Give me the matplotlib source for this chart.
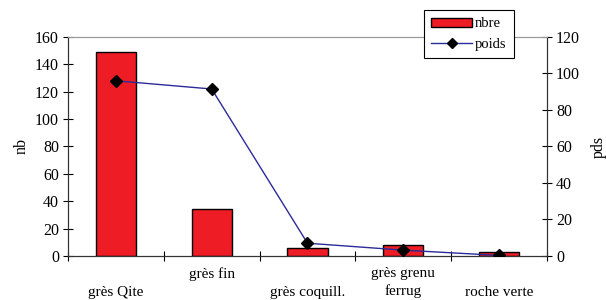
import numpy as np
import matplotlib
matplotlib.use("Agg")
import matplotlib.pyplot as plt
from matplotlib.lines import Line2D
from matplotlib.patches import Patch

plt.rcParams['font.family'] = ['Liberation Serif', 'DejaVu Serif']

# data
categories = ["grès Qite", "grès fin", "grès coquill.", "grès grenu\nferrug", "roche verte"]
nbre = [149, 34, 6, 8, 3]
poids = [96, 91.5, 7, 3.2, 0.3]

x = np.arange(len(categories))

fig = plt.figure(figsize=(6.06, 3.0), dpi=100)
ax = fig.add_axes([0.1122, 0.1467, 0.7904, 0.73])
ax2 = ax.twinx()

ax.bar(x, nbre, width=0.42, color='#ee1c25', edgecolor='black', linewidth=1.0, zorder=2)
ax2.plot(x, poids, color='#2b2b9a', linewidth=1.0, marker='D', markersize=6,
         markerfacecolor='black', markeredgecolor='black', zorder=3)

ax.set_xlim(-0.5, len(categories) - 0.5)
ax.set_ylim(0, 160)
ax2.set_ylim(0, 120)
ax.set_yticks(np.arange(0, 161, 20))
ax2.set_yticks(np.arange(0, 121, 20))

# category ticks at boundaries, staggered labels
ax.set_xticks(np.arange(-0.5, len(categories), 1.0))
ax.set_xticklabels([])
ax.tick_params(axis='x', direction='inout', length=7, width=0.8)
ax.tick_params(axis='y', direction='inout', length=7, width=0.8, labelsize=11.5, pad=3)
ax2.tick_params(axis='y', direction='inout', length=7, width=0.8, labelsize=11.5, pad=3)

for i, lab in enumerate(categories):
    if i % 2 == 0 and "\n" not in lab:
        yy = -0.135
    else:
        yy = -0.05
    ax.text(i, yy, lab, transform=ax.get_xaxis_transform(), ha='center', va='top',
            fontsize=11, linespacing=1.4)

for a in (ax, ax2):
    a.spines['top'].set_color('#999999')
    a.spines['left'].set_color('#333333')
    a.spines['right'].set_color('#333333')
    a.spines['bottom'].set_color('#333333')

ax.set_ylabel("nb", fontsize=11.5, labelpad=4)
ax2.set_ylabel("pds", fontsize=11.5, labelpad=8)

handles = [Patch(facecolor='#ee1c25', edgecolor='black', linewidth=1.0),
           Line2D([0], [0], color='#2b2b9a', linewidth=1.0, marker='D', markersize=5,
                  markerfacecolor='black', markeredgecolor='black')]
leg = fig.legend(handles, ["nbre", "poids"], loc='upper left',
                 bbox_to_anchor=(424 / 606, 1 - 10 / 300), fontsize=10.5,
                 frameon=True, fancybox=False, edgecolor='black', framealpha=1,
                 handlelength=2.8, handleheight=0.6, handletextpad=0.2,
                 borderpad=0.5, labelspacing=0.5, borderaxespad=0)
leg.get_frame().set_linewidth(0.8)

fig.savefig("out.png", dpi=100)
